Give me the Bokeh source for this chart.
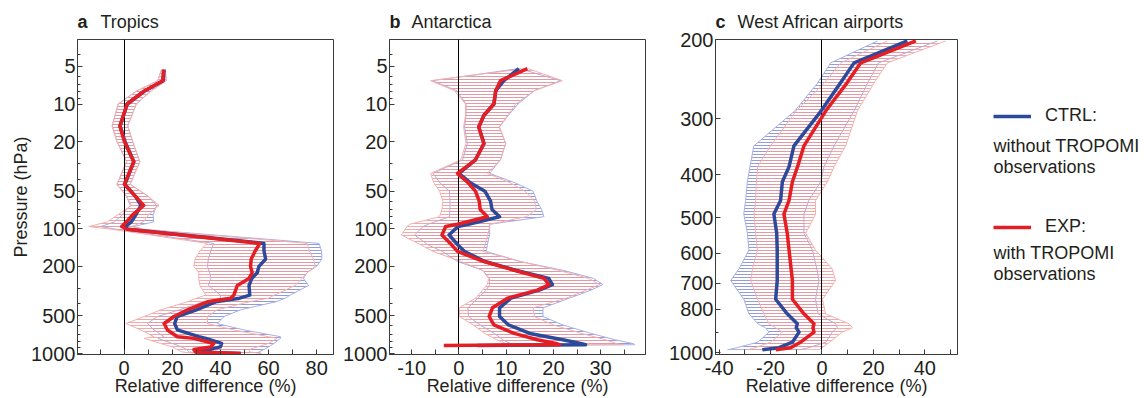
from bokeh.plotting import figure
from bokeh.layouts import row, column
from bokeh.models import (Range1d, FixedTicker, PrintfTickFormatter, Label,
                          Legend, LegendItem, ColumnDataSource)
from bokeh.embed import file_html
from bokeh.resources import INLINE

# ---------------- data ----------------
# Panel a: Tropics
pa_levels = [5.3, 6.5, 7.9, 10, 15, 20, 29, 44, 55, 65, 78, 88, 96, 101, 131, 150, 175, 200,
             225, 250, 285, 340, 360, 385, 446, 505, 575, 647, 733, 756, 830, 885, 930, 970, 1000]
pa_ctrl = [16.6, 16.2, 8.3, 1.3, -1.7, 0.3, 4.0, 0.3, 4.7, 7.0, 4.7, 3.0, 0.5, 1.5, 58.1, 58.1, 58.8, 56.0,
           55.3, 53.0, 51.9, 52.2, 48.0, 38.0, 30.0, 22.0, 21.0, 22.1, 31.0, 34.0, 40.5, 40.0, 35.0, 31.0, 48.5]
pa_exp = [16.4, 16.0, 8.2, 1.2, -1.8, 0.1, 4.0, 0.1, 4.7, 8.1, 3.3, 1.0, -1.0, 1.2, 56.4, 54.5, 52.8, 52.5,
          53.2, 51.9, 47.0, 45.6, 44.2, 34.6, 26.3, 20.7, 16.6, 18.0, 22.1, 29.0, 37.3, 36.0, 29.0, 29.7, 48.4]
pa_ctrl_lo = [15.5, 14.0, 5.0, -2.5, -5.0, -3.0, 1.0, -3.0, 1.0, 2.5, -1.0, -4.0, -9.8, -3.0, 37.2, 36.0, 35.0, 34.6,
              35.5, 36.0, 35.0, 40.0, 40.0, 33.0, 23.0, 13.8, 9.7, 12.4, 16.6, 14.0, 20.0, 24.0, 26.0, 27.0, 32.0]
pa_ctrl_hi = [17.0, 17.5, 11.0, 5.0, 1.5, 3.5, 6.5, 2.5, 10.0, 13.5, 12.0, 12.3, 4.0, 8.0, 81.0, 82.0, 82.2, 80.0,
              76.0, 74.5, 76.6, 69.0, 67.0, 63.0, 48.4, 41.5, 38.7, 49.8, 65.0, 65.0, 62.2, 60.0, 58.0, 56.0, 57.0]
pa_exp_lo = [15.5, 14.0, 5.0, -2.5, -5.0, -3.0, 1.0, -3.0, 1.0, 3.0, -3.0, -7.0, -14.7, -5.0, 34.4, 31.5, 29.5, 29.0,
             31.0, 31.0, 31.5, 33.9, 30.0, 26.3, 15.2, 8.3, 0.7, 6.9, 12.4, 8.3, 15.2, 20.0, 22.1, 24.0, 30.0]
pa_exp_hi = [17.0, 17.5, 11.0, 5.0, 1.5, 3.5, 6.5, 2.5, 10.0, 14.5, 10.0, 8.0, 3.0, 8.0, 76.0, 77.0, 78.7, 79.4,
             76.0, 74.0, 71.0, 62.5, 60.0, 52.0, 38.7, 34.6, 34.6, 45.6, 60.0, 63.6, 60.0, 55.3, 52.0, 52.0, 57.0]

# Panel b: Antarctica
pb_levels = [5.2, 6.5, 7.8, 10, 12.3, 15.3, 20.7, 28, 36, 43, 50, 60, 70, 80, 92, 96, 112, 135, 152,
             183, 215, 250, 280, 310, 360, 430, 505, 590, 690, 775, 835, 850, 862]
pb_ctrl = [12.7, 9.5, 7.8, 7.4, 5.3, 4.2, 5.3, 3.5, 0.0, 2.5, 5.5, 6.7, 7.0, 8.6, 2.0, -0.2, -2.1, -0.2, 1.2,
           5.5, 12.0, 19.0, 19.8, 17.0, 11.0, 8.6, 8.6, 10.5, 15.0, 22.0, 26.0, 26.8, 3.9]
pb_exp = [14.5, 8.8, 7.8, 7.4, 5.3, 4.2, 5.3, 3.5, -0.3, 2.0, 3.5, 4.3, 4.5, 6.0, -0.3, -2.8, -3.6, -1.5, -0.3,
          5.3, 11.7, 18.0, 19.1, 16.6, 10.3, 7.1, 6.4, 7.4, 11.7, 16.6, 20.8, 21.3, -3.2]
pb_ctrl_lo = [12.7, -5.6, -0.5, 1.5, 1.5, 1.2, 1.8, 0.8, -5.5, -4.0, -2.0, -1.9, -1.9, -2.0, -6.5, -7.6, -9.4, -6.5, -3.5,
              -0.3, 5.0, 6.5, 6.5, 5.8, 4.0, 1.9, 2.0, 4.5, 7.5, 9.3, 11.0, 11.0, 3.9]
pb_ctrl_hi = [12.8, 21.5, 16.0, 12.5, 10.5, 8.5, 9.9, 8.8, 6.5, 12.0, 15.7, 16.5, 17.5, 18.0, 6.5, 6.5, 6.5, 6.0, 5.8,
              13.0, 22.0, 28.5, 30.5, 28.0, 23.4, 17.8, 17.8, 22.0, 28.0, 33.0, 37.0, 37.2, 4.0]
pb_exp_lo = [14.0, -6.0, -1.0, 1.4, 1.4, 1.0, 1.5, 0.4, -6.0, -5.3, -4.1, -3.4, -3.6, -4.1, -10.4, -11.0, -12.2, -8.0, -5.5,
             0.5, 5.0, 6.3, 6.0, 5.0, 3.5, 0.1, 0.1, 3.0, 5.5, 8.0, 10.0, 10.0, -3.2]
pb_exp_hi = [14.6, 21.9, 16.0, 12.0, 10.3, 8.6, 9.9, 8.8, 6.0, 11.0, 14.0, 16.0, 16.4, 14.3, 6.5, 6.5, 6.1, 5.5, 5.1,
             13.0, 21.0, 27.5, 29.8, 27.0, 22.7, 15.7, 16.0, 20.0, 26.0, 31.0, 33.5, 34.7, -3.0]

# Panel c: West African airports
pc_levels = [201, 225, 250, 288, 345, 384, 415, 457, 490, 541, 590, 650, 690, 760, 819, 862, 880, 900, 948, 975, 986]
pc_ctrl = [33.2, 12.5, 7.1, -0.3, -10.9, -12.8, -15.4, -16.1, -18.7, -17.6, -17.4, -17.4, -17.4, -18.0, -13.5,
           -9.6, -10.0, -8.9, -11.5, -16.7, -23.2]
pc_exp = [36.5, 15.1, 9.6, 1.5, -7.0, -9.5, -11.5, -12.8, -14.8, -13.5, -12.8, -12.0, -11.5, -11.5, -7.0,
          -3.1, -3.5, -3.1, -8.3, -12.2, -18.0]
pc_ctrl_lo = [21.6, 3.4, -1.8, -10.5, -26.5, -28.0, -29.0, -29.7, -30.4, -29.0, -28.4, -32.3, -35.5, -30.4, -28.4,
              -25.0, -22.0, -20.6, -25.0, -33.0, -36.8]
pc_ctrl_hi = [44.9, 22.0, 17.7, 12.5, 4.7, 0.8, -0.5, -5.1, -7.0, -7.0, -3.7, -2.0, -1.2, -2.5, -1.5,
              5.3, 6.0, 4.0, 1.5, -5.0, -8.9]
pc_exp_lo = [25.4, 7.3, 0.8, -10.0, -20.0, -25.0, -25.5, -25.8, -26.4, -25.8, -25.1, -27.0, -27.7, -25.0, -22.6,
             -20.6, -18.0, -15.4, -20.0, -26.0, -29.0]
pc_exp_hi = [48.1, 25.4, 20.2, 13.8, 9.2, 4.7, 2.1, -2.5, -2.5, -6.3, -2.5, 4.0, 5.3, 0.2, 1.4,
             10.5, 11.8, 7.9, 3.0, 0.0, -1.2]

# ticks
xa_major = [0, 20, 40, 60, 80]
xa_minor = [-10, 10, 30, 50, 70]
xb_major = [-10, 0, 10, 20, 30]
xb_minor = [-5, 5, 15, 25, 35]
xc_major = [-40, -20, 0, 20, 40]
xc_minor = [-30, -10, 10, 30, 50]
yab_major = [5, 10, 20, 50, 100, 200, 500, 1000]
yab_minor = [4, 6, 7, 8, 9, 30, 40, 60, 70, 80, 90, 300, 400, 600, 700, 800, 900]
yc_major = [200, 300, 400, 500, 600, 700, 800, 1000]
yc_minor = [900]

# texts
panel_letters = ["a", "b", "c"]
panel_titles = ["Tropics", "Antarctica", "West African airports"]
legend_names = ["CTRL:", "EXP:"]
legend_notes = [["without TROPOMI", "observations"], ["with TROPOMI", "observations"]]

# ---------------- style ----------------
FONT = "Liberation Sans"
TXT = "#231f20"
RED = "#e31e24"
BLUE = "#2b4a9c"
RED_H = "#f29a9a"
BLUE_H = "#959dd8"
RED_E = "#f5b0b0"
BLUE_E = "#aab0e4"
TITLE_H = 32
H = 398 - TITLE_H
BT, BB = 7, 44


def make_panel(width, bl, br, xr, yr, xmaj, xmin, ymaj, ymin, src, ylabel=None):
    p = figure(width=width, height=H, output_backend="svg", toolbar_location=None,
               x_range=Range1d(*xr), y_range=Range1d(*yr), y_axis_type="log",
               min_border_left=bl, min_border_right=br, min_border_top=BT, min_border_bottom=BB)
    p.grid.visible = False
    p.outline_line_color = "#3a3a3a"
    p.outline_line_width = 1

    # CTRL band
    p.harea(y="p", x1="clo", x2="chi", source=src, fill_alpha=0,
            hatch_pattern="horizontal_line", hatch_color=BLUE_H, hatch_scale=3, hatch_weight=1)
    p.line("clo", "p", source=src, line_color=BLUE_E, line_width=1)
    p.line("chi", "p", source=src, line_color=BLUE_E, line_width=1)
    # EXP band
    p.harea(y="p", x1="elo", x2="ehi", source=src, fill_alpha=0,
            hatch_pattern="horizontal_line", hatch_color=RED_H, hatch_scale=3, hatch_weight=1,
            hatch_alpha=0.85)
    p.line("elo", "p", source=src, line_color=RED_E, line_width=1)
    p.line("ehi", "p", source=src, line_color=RED_E, line_width=1)
    # zero line
    p.vspan(x=[0], line_color="black", line_width=1)
    # main profiles
    p.line("ctrl", "p", source=src, line_color=BLUE, line_width=3.5, line_join="round")
    p.line("exp", "p", source=src, line_color=RED, line_width=3.5, line_join="round")

    # axes
    p.xaxis.ticker = FixedTicker(ticks=xmaj, minor_ticks=xmin)
    p.yaxis.ticker = FixedTicker(ticks=ymaj, minor_ticks=ymin)
    p.xaxis.formatter = PrintfTickFormatter(format="%d")
    p.yaxis.formatter = PrintfTickFormatter(format="%d")
    for ax in (p.xaxis, p.yaxis):
        ax.axis_line_color = "#3a3a3a"
        ax.major_tick_line_color = "#3a3a3a"
        ax.minor_tick_line_color = "#3a3a3a"
        ax.major_tick_out = 0
        ax.minor_tick_out = 0
        ax.major_label_text_font = FONT
        ax.major_label_text_font_size = "20px"
        ax.major_label_text_color = TXT
        ax.axis_label_text_font = FONT
        ax.axis_label_text_font_size = "18px"
        ax.axis_label_text_font_style = "normal"
        ax.axis_label_text_color = TXT
    p.yaxis.major_label_standoff = 2
    p.xaxis.major_label_standoff = 6
    p.xaxis.axis_label_standoff = -2
    p.xaxis.axis_label = "Relative difference (%)"
    p.xaxis.major_tick_in = 5
    p.xaxis.minor_tick_in = 5
    p.yaxis.major_tick_in = 5
    p.yaxis.minor_tick_in = 3
    if ylabel:
        p.yaxis.axis_label = ylabel
        p.yaxis.axis_label_standoff = -3
    return p


src_a = ColumnDataSource(dict(p=pa_levels, ctrl=pa_ctrl, exp=pa_exp, clo=pa_ctrl_lo, chi=pa_ctrl_hi,
                              elo=pa_exp_lo, ehi=pa_exp_hi))
src_b = ColumnDataSource(dict(p=pb_levels, ctrl=pb_ctrl, exp=pb_exp, clo=pb_ctrl_lo, chi=pb_ctrl_hi,
                              elo=pb_exp_lo, ehi=pb_exp_hi))
src_c = ColumnDataSource(dict(p=pc_levels, ctrl=pc_ctrl, exp=pc_exp, clo=pc_ctrl_lo, chi=pc_ctrl_hi,
                              elo=pc_exp_lo, ehi=pc_exp_hi))

pa = make_panel(340, 77, 7, (-19.4, 87), (1018, 3.04), xa_major, xa_minor, yab_major, yab_minor,
                src_a, ylabel="Pressure (hPa)")
pb = make_panel(320, 49, 15, (-14.7, 39.5), (1018, 3.04), xb_major, xb_minor, yab_major, yab_minor, src_b)
pc = make_panel(300, 55, 3, (-41.4, 52.7), (1010, 199.5), xc_major, xc_minor, yc_major, yc_minor, src_c)

# ---------------- title strip ----------------
tf = figure(width=1144, height=TITLE_H, output_backend="svg", toolbar_location=None,
            x_range=Range1d(0, 1144), y_range=Range1d(0, TITLE_H), x_axis_type=None, y_axis_type=None,
            min_border=0, outline_line_color=None)
tf.grid.visible = False
letter_x = [77, 389, 715]
title_x = [100, 411, 737]
for lt, tt, lx, tx in zip(panel_letters, panel_titles, letter_x, title_x):
    tf.add_layout(Label(x=lx, y=TITLE_H - 21.5, x_units="screen", y_units="screen", text=lt,
                        text_font=FONT, text_font_size="18px", text_font_style="bold",
                        text_color=TXT, text_baseline="middle"))
    tf.add_layout(Label(x=tx, y=TITLE_H - 21.5, x_units="screen", y_units="screen", text=tt,
                        text_font=FONT, text_font_size="18px", text_color=TXT,
                        text_baseline="middle"))

# ---------------- legend panel ----------------
lf = figure(width=184, height=H, output_backend="svg", toolbar_location=None,
            x_range=Range1d(0, 1), y_range=Range1d(0, 1), x_axis_type=None, y_axis_type=None,
            min_border_left=0, min_border_right=0, min_border_top=BT, min_border_bottom=BB,
            outline_line_color=None)
lf.grid.visible = False
# the same profiles again; they fall outside this panel's ranges and only feed the legend swatches
r_ctrl = lf.line("ctrl", "p", source=src_c, line_color=BLUE, line_width=3.5)
r_exp = lf.line("exp", "p", source=src_c, line_color=RED, line_width=3.5)
legend = Legend(items=[LegendItem(label=legend_names[0], renderers=[r_ctrl]),
                       LegendItem(label=legend_names[1], renderers=[r_exp])],
                location=(33, 117), orientation="vertical", padding=0, margin=0, spacing=90,
                glyph_width=38, glyph_height=20, label_height=20, label_standoff=14,
                border_line_alpha=0, background_fill_alpha=0,
                label_text_font=FONT, label_text_font_size="18px", label_text_color=TXT)
lf.add_layout(legend)
note_y = [[209, 188], [102, 81]]
for notes, ys in zip(legend_notes, note_y):
    for txt, yy in zip(notes, ys):
        lf.add_layout(Label(x=33, y=yy, x_units="screen", y_units="screen", text=txt,
                            text_font=FONT, text_font_size="18px", text_color=TXT,
                            text_baseline="middle"))

layout = column(tf, row(pa, pb, pc, lf))
open("out.html", "w").write(file_html(layout, INLINE))
